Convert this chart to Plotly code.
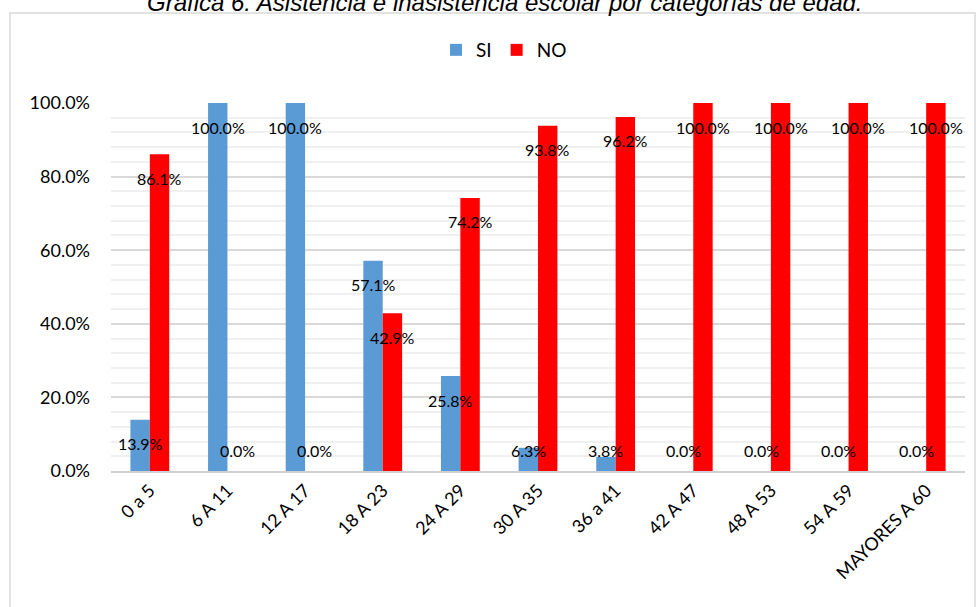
import plotly.graph_objects as go

# Age groups and school attendance shares (%)
categorias = ["0 a 5", "6 A 11", "12 A 17", "18 A 23", "24 A 29", "30 A 35",
              "36 a 41", "42 A 47", "48 A 53", "54 A 59", "MAYORES A 60"]
si = [13.9, 100.0, 100.0, 57.1, 25.8, 6.3, 3.8, 0.0, 0.0, 0.0, 0.0]
no = [86.1, 0.0, 0.0, 42.9, 74.2, 93.8, 96.2, 100.0, 100.0, 100.0, 100.0]

W, H = 979, 607
M_L, M_R, M_T, M_B = 111, 14, 103, 136
plot_w = W - M_L - M_R
plot_h = H - M_T - M_B
px_per_unit = plot_h / 100.0

AZUL = "#5B9BD5"
ROJO = "#FF0000"
FONT = "Lato, 'Noto Sans', sans-serif"

fig = go.Figure()
fig.add_trace(go.Bar(name="SI", x=categorias, y=si, marker=dict(color=AZUL, line=dict(width=0))))
fig.add_trace(go.Bar(name="NO", x=categorias, y=no, marker=dict(color=ROJO, line=dict(width=0))))

# value labels: just inside the bar end, never lower than the floor near the axis
annotations = []
for serie, offset in ((si, -0.125), (no, 0.125)):
    for i, v in enumerate(serie):
        top_px = v * px_per_unit
        if top_px - 24 < 21:
            y, shift = 0, 21
        else:
            y, shift = v, -24
        annotations.append(dict(
            x=i + offset, y=y, xref="x", yref="y", yshift=shift,
            text=f"{v:.1f}%", showarrow=False, xanchor="center", yanchor="middle",
            font=dict(family=FONT, size=16, color="#000000")))

# title, partly above the page edge
annotations.append(dict(
    x=(505 - M_L) / plot_w, y=1, xref="paper", yref="paper", yshift=101,
    text="<i>Gráfica 6. Asistencia e inasistencia escolar por categorías de edad.</i>",
    showarrow=False, xanchor="center", yanchor="middle",
    font=dict(family="'Liberation Sans', Arial, sans-serif", size=24, color="#000000")))

# chart frame
shapes = [dict(
    type="rect", xref="paper", yref="paper",
    x0=(10 - M_L) / plot_w, x1=(975 - M_L) / plot_w,
    y0=(M_T + plot_h - 615) / plot_h, y1=(M_T + plot_h - 13) / plot_h,
    line=dict(color="#D9D9D9", width=1.5), fillcolor="rgba(0,0,0,0)", layer="below")]

fig.update_layout(
    width=W, height=H,
    margin=dict(l=M_L, r=M_R, t=M_T, b=M_B, pad=0),
    paper_bgcolor="white", plot_bgcolor="white",
    barmode="group", bargap=0.5, bargroupgap=0,
    font=dict(family=FONT, color="#000000"),
    showlegend=True,
    legend=dict(orientation="h", x=(436 - M_L) / plot_w, xanchor="left",
                y=1 + 53 / plot_h, yanchor="middle",
                font=dict(family=FONT, size=19, color="#000000"),
                itemwidth=30, bgcolor="rgba(0,0,0,0)"),
    annotations=annotations,
    shapes=shapes,
)

fig.update_xaxes(
    type="category", tickangle=-45, showgrid=False, showline=True,
    linecolor="#D0D0D0", linewidth=2, ticks="",
    tickfont=dict(family=FONT, size=18, color="#000000"),
)
fig.update_yaxes(
    range=[0, 100], dtick=20, tickformat=".1f", ticksuffix="%",
    showgrid=True, gridcolor="#D9D9D9", gridwidth=1.5,
    zeroline=False, showline=False, ticks="",
    ticklabelstandoff=20,
    tickfont=dict(family=FONT, size=18, color="#000000"),
    minor=dict(dtick=4, showgrid=True, gridcolor="#F0F0F0", gridwidth=1.5),
)

fig.write_html("out.html")
